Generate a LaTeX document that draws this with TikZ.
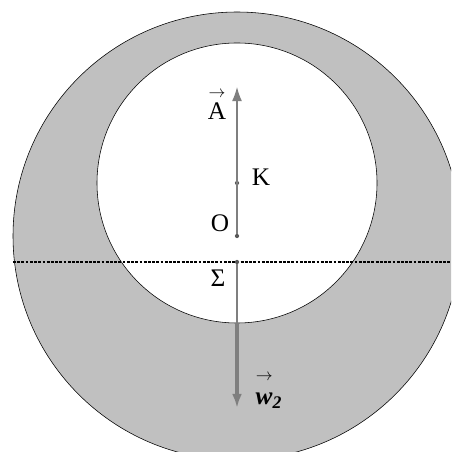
\documentclass[tikz,border=0pt]{standalone}
\usepackage{amsmath}
\usepackage{fontspec}
\setmainfont{Liberation Serif}
\usepackage{xcolor}
\usetikzlibrary{arrows.meta}
\definecolor{shell}{HTML}{C0C0C0}
\definecolor{force}{HTML}{7F7F7F}

\tikzset{
  lbl/.style={font=\fontsize{18}{20}\selectfont, inner sep=0pt},
  pt/.style={circle, fill=force!70!black, inner sep=0pt, minimum size=3pt},
  tip/.style={-{Latex[length=10pt,width=7pt]}},
}

\begin{document}
\begin{tikzpicture}
\useasboundingbox (-5.925,-5.4) rectangle (5.35,5.9);
\clip (-5.925,-5.4) rectangle (5.35,5.9);

% Shell and cavity
\draw[fill=shell] (0,0) circle (5.6);
\draw[fill=white] (0,1.325) circle (3.5);
\draw[thick, dash pattern=on 2pt off 1pt] (-5.6,-0.65) -- (5.6,-0.65);

% Points
\node[pt] (O) at (0,0) {};
\node[pt] (K) at (0,1.325) {};
\node[pt] (S) at (0,-0.65) {};
\coordinate (B) at (0,-2.175);
\coordinate (Atip) at (0,3.725);
\coordinate (Wtip) at (0,-4.3);

% Forces
\draw[force, thick, tip] (O) -- (Atip);
\draw[force, thick] (S) -- (B);
\draw[force, line width=2.2pt, tip] (B) -- (Wtip);

% Labels
\node[lbl] (lA) at (-0.5,3.3) {$\overset{\rightarrow}{\text{A}}$};
\node[lbl] (lK) at (0.6,1.475) {K};
\node[lbl] (lO) at (-0.425,0.325) {O};
\node[lbl] (lS) at (-0.475,-1.05) {Σ};
\node[lbl] (lW) at (0.8,-3.85) {$\overset{\rightarrow}{\rule{0pt}{1.7ex}\textbf{\textit{w}}}_{\textbf{\textit{2}}}$};
\end{tikzpicture}
\end{document}
